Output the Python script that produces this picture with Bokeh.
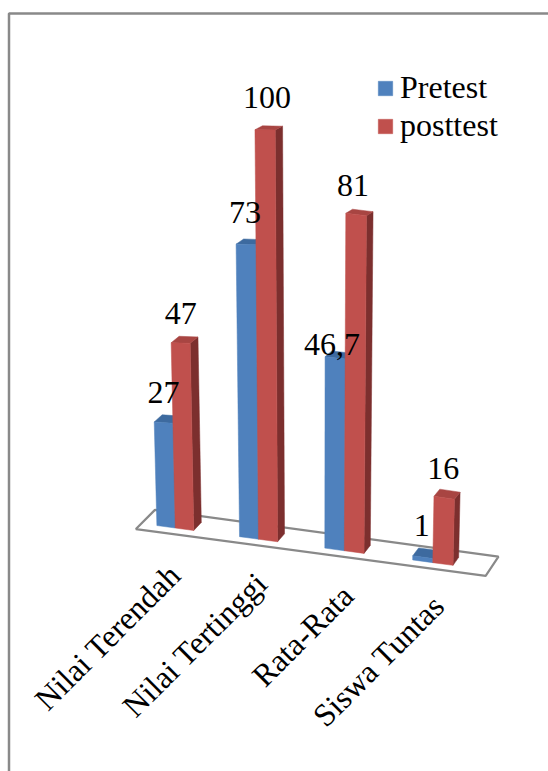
from bokeh.core.properties import value as fixed
from bokeh.embed import file_html
from bokeh.models import ColumnDataSource, Legend, LegendItem
from bokeh.plotting import figure
from bokeh.resources import INLINE

categories = ["Nilai Terendah", "Nilai Tertinggi", "Rata-Rata", "Siswa Tuntas"]
pretest = [27, 73, 46.7, 1]
posttest = [47, 100, 81, 16]
pretest_labels = ["27", "73", "46,7", "1"]
posttest_labels = ["47", "100", "81", "16"]

WIDTH, HEIGHT = 548, 771
FONT = "Liberation Serif"
GREY = "#898989"

# Bar half-footprint along the category axis and floor extents, in chart units.
BAR_W = 0.225
FLOOR_U = (0.085, 4.125)
FLOOR_D = (-0.7, 1.7)
# Gap between a bar's top and its value label, per series and category.
PRE_LIFT = [30, 32, 13, 32]
POST_LIFT = [30, 32, 29, 29]
PRE_SHIFT = [0, -1, -3, -1]
POST_SHIFT = [0, 2, -3, -1]
# Fine placement of the slanted category names.
CAT_SHIFT_X = [5, 8, 8, 10]
CAT_SHIFT_Y = [36, 33, 34, 32]


def project(u, d, v, height_trim=0.0):
    """Oblique camera: u runs along the categories, d into the floor, v up."""
    base_x = 134.1 + 80.65 * u + 1.3 * u * u
    x = base_x + d * (9 - 0.0075 * base_x)
    y = 504 + 0.1345 * base_x + d * (-8 + 0.05 * v)
    unit = 4.17 - 6e-6 * (x - 370) ** 2 - height_trim
    return x + (x - 315) * 0.00062 * v, y - unit * v


def bar_faces(values, u_start, trim):
    faces = {"front": ([], []), "top": ([], []), "side": ([], [])}
    for i, v in enumerate(values):
        u0, u1 = i + u_start, i + u_start + BAR_W
        corners = {
            "front": [(u0, 0, 0), (u1, 0, 0), (u1, 0, v), (u0, 0, v)],
            "top": [(u0, 0, v), (u1, 0, v), (u1, 1, v), (u0, 1, v)],
            "side": [(u1, 0, 0), (u1, 1, 0), (u1, 1, v), (u1, 0, v)],
        }
        for name, pts in corners.items():
            xy = [project(*p, trim) for p in pts]
            faces[name][0].append([q[0] for q in xy])
            faces[name][1].append([q[1] for q in xy])
    return faces


p = figure(width=WIDTH, height=HEIGHT, x_range=(0, WIDTH), y_range=(HEIGHT, 0),
           output_backend="svg", toolbar_location=None, min_border=0)
p.axis.visible = False
p.grid.visible = False
p.outline_line_color = None

# Frame of the chart area, cut off by the page on the right and at the bottom.
p.line([8.5, 8.5, WIDTH], [HEIGHT, 13, 13], line_color=GREY, line_width=2.5)

# Floor of the 3D plot.
floor = [project(FLOOR_U[0], FLOOR_D[0], 0), project(FLOOR_U[1], FLOOR_D[0], 0),
         project(FLOOR_U[1], FLOOR_D[1], 0), project(FLOOR_U[0], FLOOR_D[1], 0)]
p.patch([c[0] for c in floor], [c[1] for c in floor], fill_color="white",
        line_color=GREY, line_width=2.2)

series = [
    (pretest, 0.5 - BAR_W, 0.06, "#4f81bd", "#3d6a9f", "#34587f"),
    (posttest, 0.5, 0.0, "#c0504d", "#a84542", "#7c2f2e"),
]
legend_items = []
for values, start, trim, front, top, side in series:
    faces = bar_faces(values, start, trim)
    p.patches(*faces["side"], fill_color=side, line_color=side, line_width=0.5)
    p.patches(*faces["top"], fill_color=top, line_color=top, line_width=0.5)
    fronts = p.patches(*faces["front"], fill_color=front, line_color=front, line_width=0.5)
    legend_items.append(fronts)

# Value labels above each bar.
label_x, label_y, label_text = [], [], []
for values, labels, start, trim, lifts, shifts in [
    (pretest, pretest_labels, 0.5 - BAR_W, 0.06, PRE_LIFT, PRE_SHIFT),
    (posttest, posttest_labels, 0.5, 0.0, POST_LIFT, POST_SHIFT),
]:
    for i, v in enumerate(values):
        x, y = project(i + start + BAR_W / 2, 0, v, trim)
        label_x.append(x + shifts[i])
        label_y.append(y - lifts[i])
        label_text.append(labels[i])
p.text(x="x", y="y", text="t", source=ColumnDataSource(dict(x=label_x, y=label_y, t=label_text)),
       text_font=fixed(FONT), text_font_size="32px", text_color="black",
       text_align="center", text_baseline="middle")

# Category names, slanted and ending just under the floor.
cat_x, cat_y = [], []
for i in range(len(categories)):
    x, y = project(i + 0.5, FLOOR_D[0], 0)
    cat_x.append(x + CAT_SHIFT_X[i])
    cat_y.append(y + CAT_SHIFT_Y[i])
p.text(x="x", y="y", text="t", source=ColumnDataSource(dict(x=cat_x, y=cat_y, t=categories)),
       angle=45, angle_units="deg", text_font=fixed(FONT), text_font_size="32px",
       text_color="black", text_align="right", text_baseline="middle")

legend = Legend(
    items=[LegendItem(label="Pretest", renderers=[legend_items[0]]),
           LegendItem(label="posttest", renderers=[legend_items[1]])],
    location=(376, 771 - 144), orientation="vertical", border_line_color=None,
    background_fill_alpha=0, glyph_width=18, glyph_height=18, label_standoff=6,
    label_text_font=FONT, label_text_font_size="32px", label_text_color="black",
    spacing=1, padding=0, margin=0, label_height=33,
)
p.add_layout(legend, "center")

open("out.html", "w").write(file_html(p, INLINE))
